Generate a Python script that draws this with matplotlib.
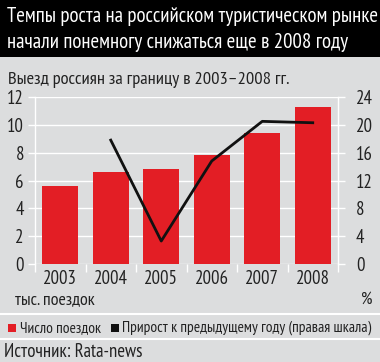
import matplotlib
matplotlib.use("Agg")
import matplotlib.pyplot as plt
from matplotlib.patches import Rectangle

plt.rcParams['font.family'] = ['PT Sans Narrow', 'DejaVu Sans']

years = ["2003", "2004", "2005", "2006", "2007", "2008"]
trips = [5.6, 6.6, 6.8, 7.8, 9.4, 11.3]
growth_years = ["2004", "2005", "2006", "2007", "2008"]
growth = [17.8, 3.3, 14.8, 20.5, 20.3]
left_ticks = [0, 2, 4, 6, 8, 10, 12]
right_ticks = [0, 4, 8, 12, 16, 20, 24]

RED = "#e31e25"
GRAY = "#dcddde"
TXT = "#222222"
W, H = 380, 362

fig = plt.figure(figsize=(W / 100, H / 100), dpi=100, facecolor=GRAY)

# black title band
fig.patches.append(Rectangle((0, 1 - 57 / H), 1, 57 / H, transform=fig.transFigure,
                             facecolor="black", edgecolor="none", zorder=0))
fig.text(7 / W, 1 - 17 / H, "Темпы роста на российском туристическом рынке",
         color="white", fontsize=15, va="center", ha="left")
fig.text(7 / W, 1 - 42 / H, "начали понемногу снижаться еще в 2008 году",
         color="white", fontsize=15, va="center", ha="left")

fig.text(8 / W, 1 - 80 / H, "Выезд россиян за границу в 2003–2008 гг.",
         color=TXT, fontsize=13.3, va="center", ha="left")

ax = fig.add_axes([35 / W, 1 - 264 / H, (338 - 35) / W, (264 - 97) / H])
ax.set_facecolor(GRAY)
x = list(range(len(years)))
ax.bar(x, trips, width=0.72, color=RED, zorder=3)
ax.set_xlim(-0.5, 5.5)
ax.set_ylim(0, 12)
ax.set_yticks(left_ticks)
ax.set_yticklabels([str(t) for t in left_ticks])
ax.yaxis.grid(True, color="white", linewidth=1, zorder=0)
ax.set_axisbelow(True)
for s in ["top", "bottom"]:
    ax.spines[s].set_visible(False)
for s in ["left", "right"]:
    ax.spines[s].set_color("white")
    ax.spines[s].set_linewidth(1)
ax.set_xticks([i + 0.5 for i in range(-1, 6)])
ax.set_xticklabels([])
ax.set_xticks(x, minor=True)
ax.set_xticklabels(years, minor=True)
ax.tick_params(axis="x", which="major", length=6, color="white", width=1)
ax.tick_params(axis="x", which="minor", length=0, pad=4, labelsize=13.5, labelcolor=TXT)
ax.tick_params(axis="y", length=5, color="white", width=1, pad=3, labelsize=13.5, labelcolor=TXT)

ax2 = ax.twinx()
ax2.set_ylim(0, 24)
ax2.set_yticks(right_ticks)
ax2.set_yticklabels([str(t) for t in right_ticks])
gx = [years.index(y) for y in growth_years]
ax2.plot(gx, growth, color="#111111", linewidth=2, zorder=4)
for s in ["top", "bottom", "left"]:
    ax2.spines[s].set_visible(False)
ax2.spines["right"].set_color("white")
ax2.tick_params(axis="y", length=5, color="white", width=1, pad=8, labelsize=13.5, labelcolor=TXT)

fig.text(15 / W, 1 - 300 / H, "тыс. поездок", color=TXT, fontsize=13, va="center", ha="left")
fig.text(372 / W, 1 - 300 / H, "%", color=TXT, fontsize=13, va="center", ha="right")

# separators
for yy in [314, 339]:
    fig.add_artist(plt.Line2D([0, 1], [1 - yy / H, 1 - yy / H], transform=fig.transFigure,
                              color="white", linewidth=1.5))

# legend row
fig.patches.append(Rectangle((8 / W, 1 - 332 / H), 8 / W, 8 / H, transform=fig.transFigure,
                             facecolor=RED, edgecolor="none"))
fig.text(20 / W, 1 - 328 / H, "Число поездок", color=TXT, fontsize=11.2, va="center", ha="left")
fig.patches.append(Rectangle((111 / W, 1 - 332 / H), 8 / W, 8 / H, transform=fig.transFigure,
                             facecolor="#111111", edgecolor="none"))
fig.text(122 / W, 1 - 328 / H, "Прирост к предыдущему году (правая шкала)", color=TXT,
         fontsize=11.2, va="center", ha="left")

fig.text(4 / W, 1 - 352 / H, "Источник: Rata-news", color=TXT, fontsize=13.5, va="center", ha="left")

fig.savefig("out.png", dpi=100, facecolor=GRAY)
